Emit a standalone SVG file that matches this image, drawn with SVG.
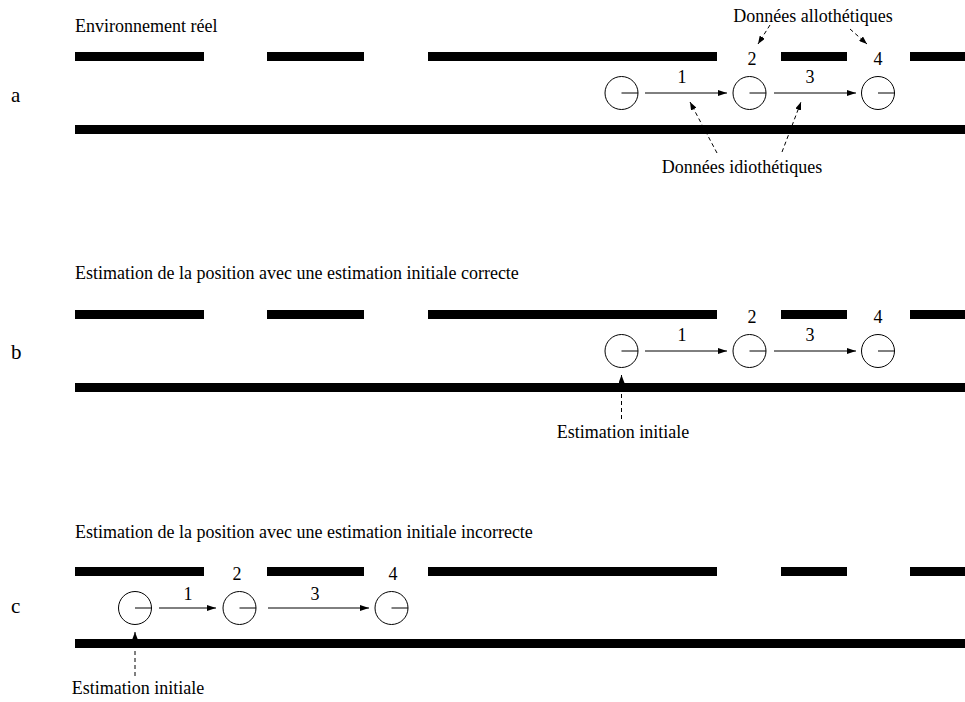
<svg xmlns="http://www.w3.org/2000/svg" width="965" height="702" viewBox="0 0 965 702">
<defs>
<marker id="ah" markerWidth="9" markerHeight="6" refX="9" refY="3" orient="auto" markerUnits="userSpaceOnUse"><path d="M0,0 L9,3 L0,6 Z" fill="#000"/></marker>
<marker id="ahd" markerWidth="8" markerHeight="6" refX="8" refY="3" orient="auto" markerUnits="userSpaceOnUse"><path d="M0,0 L8,3 L0,6 Z" fill="#000"/></marker>
</defs>
<style>
.wall{fill:#000}
.rob circle{fill:none;stroke:#000;stroke-width:1}
.rob line{stroke:#000;stroke-width:1}
.mv{stroke:#000;stroke-width:1;fill:none;marker-end:url(#ah)}
.dsh{stroke:#000;stroke-width:1;fill:none;stroke-dasharray:4 3;marker-end:url(#ahd)}
.mid{text-anchor:middle}
</style>
<rect width="965" height="702" fill="#fff"/>

<g font-family="'Liberation Serif', 'Times New Roman', serif" font-size="18" fill="#000">
<!-- Panel a -->
<g id="panel-a-walls">
<rect class="wall" x="75" y="52" width="129" height="9"/>
<rect class="wall" x="267" y="52" width="97" height="9"/>
<rect class="wall" x="428" y="52" width="289" height="9"/>
<rect class="wall" x="781" y="52" width="66" height="9"/>
<rect class="wall" x="910" y="52" width="55" height="9"/>
<rect class="wall" x="75" y="125" width="890" height="9"/>
</g>
<text x="75" y="32">Environnement réel</text>
<text font-size="21" x="11" y="102">a</text>
<g id="a-r0" class="rob"><circle cx="621.5" cy="93" r="16.5"/><line x1="621.5" y1="93" x2="638" y2="93"/></g>
<g id="a-r2" class="rob"><circle cx="749.5" cy="93" r="16.5"/><line x1="749.5" y1="93" x2="766" y2="93"/></g>
<g id="a-r4" class="rob"><circle cx="878" cy="93" r="16.5"/><line x1="878" y1="93" x2="894.5" y2="93"/></g>
<text class="mid" x="682" y="83">1</text>
<text class="mid" x="810" y="83">3</text>
<text class="mid" x="752" y="65">2</text>
<text class="mid" x="878" y="65">4</text>
<text class="mid" x="813" y="22">Données allothétiques</text>
<text class="mid" x="742" y="173">Données idiothétiques</text>

<!-- Panel b -->
<g id="panel-b-walls">
<rect class="wall" x="75" y="310" width="129" height="9"/>
<rect class="wall" x="267" y="310" width="97" height="9"/>
<rect class="wall" x="428" y="310" width="289" height="9"/>
<rect class="wall" x="781" y="310" width="66" height="9"/>
<rect class="wall" x="910" y="310" width="55" height="9"/>
<rect class="wall" x="75" y="383" width="890" height="9"/>
</g>
<text x="75" y="279">Estimation de la position avec une estimation initiale correcte</text>
<text font-size="21" x="11" y="359">b</text>
<g id="b-r0" class="rob"><circle cx="621.5" cy="351" r="16.5"/><line x1="621.5" y1="351" x2="638" y2="351"/></g>
<g id="b-r2" class="rob"><circle cx="749.5" cy="351" r="16.5"/><line x1="749.5" y1="351" x2="766" y2="351"/></g>
<g id="b-r4" class="rob"><circle cx="878" cy="351" r="16.5"/><line x1="878" y1="351" x2="894.5" y2="351"/></g>
<text class="mid" x="682" y="341">1</text>
<text class="mid" x="810" y="341">3</text>
<text class="mid" x="752" y="323">2</text>
<text class="mid" x="878" y="323">4</text>
<text class="mid" x="623" y="438">Estimation initiale</text>

<!-- Panel c -->
<g id="panel-c-walls">
<rect class="wall" x="75" y="567" width="129" height="9"/>
<rect class="wall" x="267" y="567" width="97" height="9"/>
<rect class="wall" x="428" y="567" width="289" height="9"/>
<rect class="wall" x="781" y="567" width="66" height="9"/>
<rect class="wall" x="910" y="567" width="55" height="9"/>
<rect class="wall" x="75" y="639" width="890" height="9"/>
</g>
<text x="75" y="538">Estimation de la position avec une estimation initiale incorrecte</text>
<text font-size="21" x="11" y="613">c</text>
<g id="c-r0" class="rob"><circle cx="135" cy="608" r="16.5"/><line x1="135" y1="608" x2="151.5" y2="608"/></g>
<g id="c-r2" class="rob"><circle cx="239.5" cy="608" r="16.5"/><line x1="239.5" y1="608" x2="256" y2="608"/></g>
<g id="c-r4" class="rob"><circle cx="391.5" cy="608" r="16.5"/><line x1="391.5" y1="608" x2="408" y2="608"/></g>
<text class="mid" x="188" y="600">1</text>
<text class="mid" x="315" y="600">3</text>
<text class="mid" x="237" y="580">2</text>
<text class="mid" x="393" y="580">4</text>
<text class="mid" x="138" y="694">Estimation initiale</text>
</g>

<g id="connectors">
<line class="mv" x1="645" y1="93" x2="727" y2="93"/>
<line class="mv" x1="774" y1="93" x2="856" y2="93"/>
<line class="dsh" x1="770" y1="25" x2="758" y2="44"/>
<line class="dsh" x1="850" y1="29" x2="867" y2="44"/>
<line class="dsh" x1="717" y1="153" x2="690" y2="102"/>
<line class="dsh" x1="782" y1="152" x2="801" y2="102"/>
<line class="mv" x1="645" y1="351" x2="727" y2="351"/>
<line class="mv" x1="774" y1="351" x2="856" y2="351"/>
<line class="dsh" x1="621.5" y1="419" x2="621.5" y2="375"/>
<line class="mv" x1="159" y1="608" x2="216" y2="608"/>
<line class="mv" x1="268" y1="608" x2="369" y2="608"/>
<line class="dsh" x1="135" y1="676" x2="135" y2="632"/>
</g>
</svg>
